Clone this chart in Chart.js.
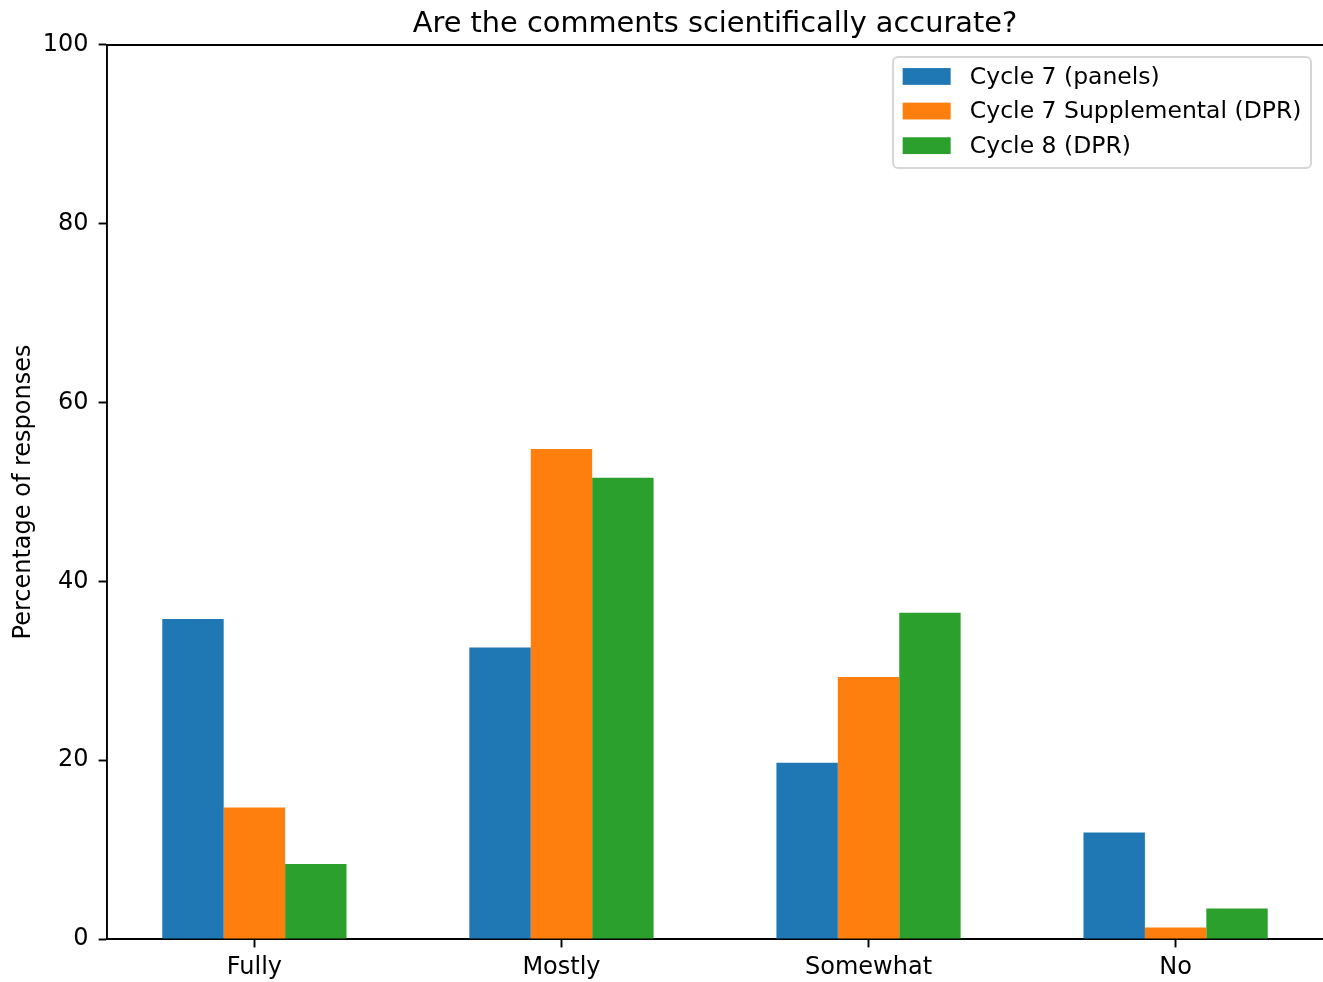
<!DOCTYPE html>
<html>
<head>
<meta charset="utf-8">
<script src="https://cdn.jsdelivr.net/npm/chart.js@4.4.1/dist/chart.umd.min.js"></script>
<style>
  body{ margin:0; background:#fff; }
  #wrap{ width:1323px; height:982px; }
</style>
</head>
<body>
<div id="wrap"><canvas id="accChart" width="1323" height="982"></canvas></div>
<script>
const categories = ['Fully', 'Mostly', 'Somewhat', 'No'];
const cycle7Panels = [35.8, 32.6, 19.7, 11.9];
const cycle7Supp = [14.7, 54.8, 29.3, 1.3];
const cycle8Dpr = [8.4, 51.6, 36.5, 3.4];
const yTicks = [0, 20, 40, 60, 80, 100];
const seriesNames = ['Cycle 7 (panels)', 'Cycle 7 Supplemental (DPR)', 'Cycle 8 (DPR)'];
const seriesColors = ['#1f77b4', '#ff7f0e', '#2ca02c'];

const FONT = "'DejaVu Sans', sans-serif";
const LW = 1.92;

function toPoints(arr){
  return arr.map((v, i) => ({ x: i, y: v }));
}

// top spine + legend box like matplotlib
const extras = {
  id: 'extras',
  afterDraw(chart){
    const c = chart.ctx, a = chart.chartArea;
    c.save();
    c.strokeStyle = '#000';
    c.lineWidth = LW;
    c.beginPath();
    c.moveTo(a.left, a.top);
    c.lineTo(a.right + 2, a.top);
    c.stroke();

    // legend
    c.font = '23.5px ' + FONT;
    const pad = 9.6, handleW = 48, handleH = 16.8, gap = 19.2, rowH = 34.6;
    let tw = 0;
    seriesNames.forEach(n => { tw = Math.max(tw, c.measureText(n).width); });
    const boxW = pad + handleW + gap + tw + pad;
    const boxH = 111;
    const right = a.right - 12, top = a.top + 12;
    const left = right - boxW;
    c.fillStyle = 'rgba(255,255,255,0.8)';
    c.strokeStyle = '#d6d6d6';
    c.lineWidth = 2;
    c.beginPath();
    c.roundRect(left, top, boxW, boxH, 5);
    c.fill();
    c.stroke();
    c.textBaseline = 'middle';
    c.textAlign = 'left';
    seriesNames.forEach((n, i) => {
      const cy = top + 19.5 + i * rowH;
      c.fillStyle = seriesColors[i];
      c.fillRect(left + pad, cy - handleH / 2, handleW, handleH);
      c.fillStyle = '#000';
      c.fillText(n, left + pad + handleW + gap, cy + 1);
    });
    c.restore();
  }
};

const ctx = document.getElementById('accChart').getContext('2d');
new Chart(ctx, {
  type: 'bar',
  data: {
    datasets: [
      { label: seriesNames[0], data: toPoints(cycle7Panels), backgroundColor: seriesColors[0] },
      { label: seriesNames[1], data: toPoints(cycle7Supp), backgroundColor: seriesColors[1] },
      { label: seriesNames[2], data: toPoints(cycle8Dpr), backgroundColor: seriesColors[2] }
    ]
  },
  options: {
    responsive: false,
    animation: false,
    events: [],
    categoryPercentage: 0.6,
    barPercentage: 1.0,
    layout: { padding: 0 },
    plugins: {
      legend: { display: false },
      tooltip: { enabled: false },
      title: {
        display: true,
        fullSize: false,
        text: 'Are the comments scientifically accurate?',
        color: '#000',
        font: { family: FONT, size: 28.8, weight: 'normal' },
        padding: { top: 7, bottom: 3.4 }
      }
    },
    scales: {
      x: {
        type: 'linear',
        min: -0.48,
        max: 3.48,
        offset: false,
        afterBuildTicks: s => { s.ticks = categories.map((c, i) => ({ value: i })); },
        afterFit: s => { s.height = 43; },
        ticks: {
          color: '#000',
          font: { family: FONT, size: 24 },
          padding: 6,
          maxRotation: 0,
          autoSkip: false,
          callback: v => categories[v]
        },
        grid: {
          offset: false,
          drawOnChartArea: false,
          drawTicks: true,
          tickLength: 8.4,
          tickWidth: LW,
          tickColor: '#000'
        },
        border: { display: true, color: '#000', width: LW }
      },
      y: {
        min: 0,
        max: 100,
        afterBuildTicks: s => { s.ticks = yTicks.map(v => ({ value: v })); },
        afterFit: s => { s.width = 107; },
        ticks: {
          color: '#000',
          font: { family: FONT, size: 24 },
          padding: 10
        },
        grid: {
          drawOnChartArea: false,
          drawTicks: true,
          tickLength: 8.4,
          tickWidth: LW,
          tickColor: '#000'
        },
        border: { display: true, color: '#000', width: LW },
        title: {
          display: true,
          text: 'Percentage of responses',
          color: '#000',
          font: { family: FONT, size: 24 },
          padding: { top: 9.5, bottom: 0 }
        }
      }
    }
  },
  plugins: [extras]
});
</script>
</body>
</html>
